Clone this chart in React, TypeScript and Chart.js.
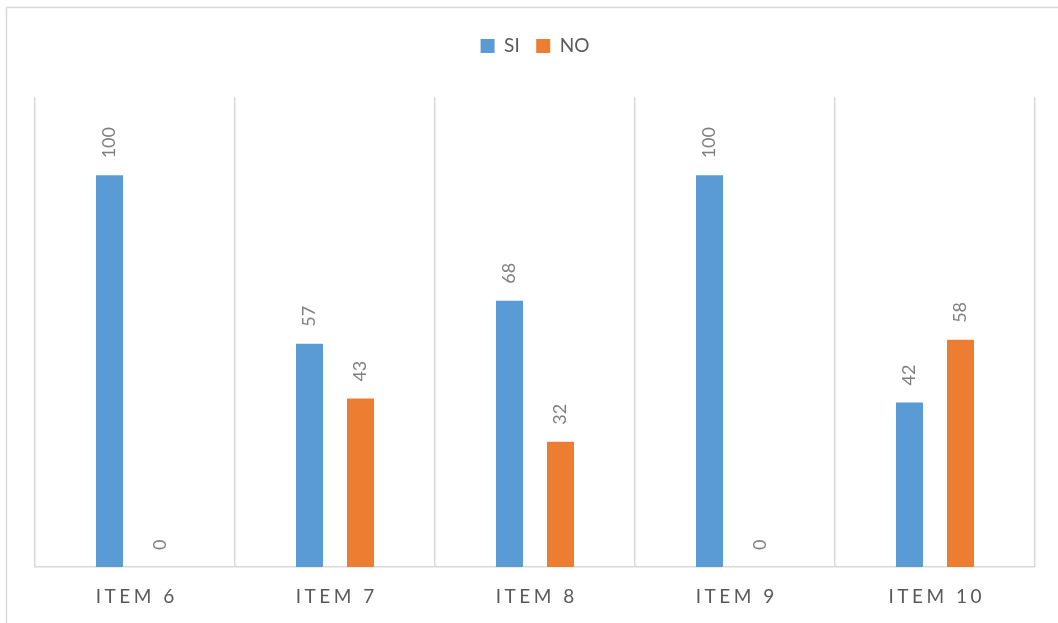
import React, { useEffect, useRef } from 'react';
import { Chart, registerables } from 'chart.js';

Chart.register(...registerables);

const categories = ['ITEM 6', 'ITEM 7', 'ITEM 8', 'ITEM 9', 'ITEM 10'];
const seriesNames = ['SI', 'NO'];
const siValues = [100, 57, 68, 100, 42];
const noValues = [0, 43, 32, 0, 58];
const seriesColors = ['#5b9bd5', '#ed7d31'];

const FONT = 'Lato, "Open Sans", sans-serif';

export default function App() {
  const ref = useRef<HTMLCanvasElement>(null);

  useEffect(() => {
    const canvas = ref.current;
    if (!canvas) return;

    const outerBorder = {
      id: 'outerBorder',
      beforeDraw(chart: any) {
        const c = chart.ctx;
        c.save();
        c.strokeStyle = '#d9d9d9';
        c.lineWidth = 1.5;
        c.beginPath();
        c.moveTo(6.5, chart.height + 5);
        c.lineTo(6.5, 7.5);
        c.lineTo(chart.width + 5, 7.5);
        c.stroke();
        c.restore();
      },
    };

    const legendSpace = {
      id: 'legendSpace',
      beforeInit(chart: any) {
        const lg = chart.legend;
        if (!lg) return;
        const fit = lg.fit;
        lg.fit = function () {
          fit.call(this);
          this.height += 31.5;
        };
      },
    };

    const xLetterSpacing = {
      id: 'xLetterSpacing',
      afterLayout(chart: any) {
        const xs = chart.scales.x;
        if (!xs || xs._lsPatched) return;
        const orig = xs.drawLabels;
        xs.drawLabels = function (area: any) {
          const c = this.ctx;
          c.save();
          (c as any).letterSpacing = '3.5px';
          c.translate(1.75, 0);
          orig.call(this, area);
          c.restore();
        };
        xs._lsPatched = true;
      },
    };

    const dataLabels = {
      id: 'dataLabels',
      afterDatasetsDraw(chart: any) {
        const c = chart.ctx;
        c.save();
        c.font = `18px ${FONT}`;
        c.fillStyle = '#7f7f7f';
        c.textAlign = 'left';
        c.textBaseline = 'middle';
        chart.data.datasets.forEach((ds: any, i: number) => {
          const meta = chart.getDatasetMeta(i);
          meta.data.forEach((bar: any, j: number) => {
            c.save();
            c.translate(bar.x, bar.y - 17);
            c.rotate(-Math.PI / 2);
            c.fillText(String(ds.data[j]), 0, 0);
            c.restore();
          });
        });
        c.restore();
      },
    };

    const chart = new Chart(canvas, {
      type: 'bar',
      data: {
        labels: categories,
        datasets: [
          {
            label: seriesNames[0],
            data: siValues,
            backgroundColor: seriesColors[0],
            categoryPercentage: 0.51,
            barPercentage: 0.53,
          },
          {
            label: seriesNames[1],
            data: noValues,
            backgroundColor: seriesColors[1],
            categoryPercentage: 0.51,
            barPercentage: 0.53,
          },
        ],
      },
      options: {
        animation: false,
        responsive: true,
        maintainAspectRatio: false,
        layout: { padding: { left: 35, right: 23, top: 20, bottom: 0 } },
        plugins: {
          legend: {
            display: true,
            position: 'top',
            labels: {
              boxWidth: 14,
              boxHeight: 14,
              padding: 16.5,
              color: '#595959',
              font: { family: FONT, size: 19 },
            },
          },
          tooltip: { enabled: false },
        },
        scales: {
          x: {
            afterFit(scale: any) {
              scale.height = 56;
            },
            grid: {
              color: '#d9d9d9',
              lineWidth: 1.5,
              drawTicks: false,
            },
            border: { display: true, color: '#d9d9d9', width: 1.5 },
            ticks: {
              padding: 18,
              color: '#595959',
              maxRotation: 0,
              font: { family: FONT, size: 19 },
            },
          },
          y: {
            display: false,
            min: 0,
            max: 120,
          },
        },
      },
      plugins: [outerBorder, legendSpace, xLetterSpacing, dataLabels],
    });

    return () => chart.destroy();
  }, []);

  return (
    <div style={{ position: 'absolute', left: 0, top: 0, width: 1058, height: 623, background: '#fff' }}>
      <canvas ref={ref} style={{ display: 'block' }} />
    </div>
  );
}
